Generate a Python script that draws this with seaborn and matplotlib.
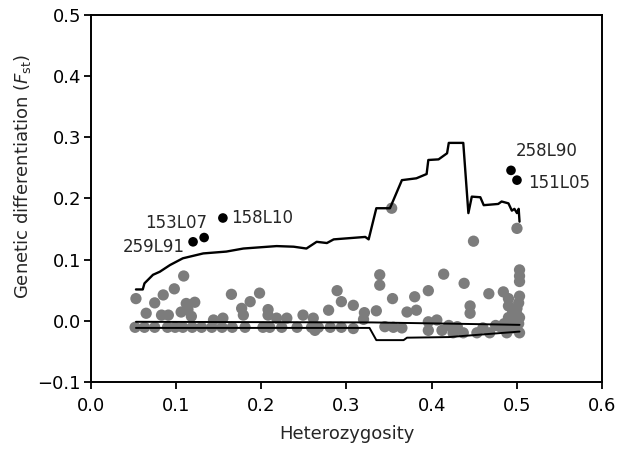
import numpy as np
import pandas as pd
import seaborn as sns
import matplotlib
matplotlib.use("Agg")
import matplotlib.pyplot as plt

# grey loci (heterozygosity, Fst)
het_grey = [0.053, 0.109, 0.098, 0.085, 0.075, 0.065, 0.083, 0.091, 0.106, 0.114, 0.112, 0.122, 0.118, 0.144, 0.155, 0.165,
            0.052, 0.063, 0.075, 0.090, 0.099, 0.108, 0.119, 0.130, 0.142, 0.154, 0.166,
            0.177, 0.179, 0.187, 0.198, 0.208, 0.208, 0.218, 0.230, 0.249, 0.261, 0.279, 0.289, 0.294, 0.308, 0.321, 0.320,
            0.181, 0.202, 0.210, 0.224, 0.242, 0.259, 0.267, 0.281, 0.294, 0.308, 0.263,
            0.339, 0.339, 0.335, 0.354, 0.371, 0.380, 0.382, 0.396, 0.414, 0.353, 0.449, 0.438, 0.500, 0.503, 0.503, 0.503,
            0.467, 0.484, 0.490, 0.490, 0.502, 0.445, 0.445, 0.396, 0.406,
            0.345, 0.355, 0.365, 0.396, 0.412, 0.425, 0.437, 0.453, 0.468, 0.488, 0.503,
            0.495, 0.500, 0.503, 0.497, 0.502, 0.490, 0.485, 0.480, 0.500, 0.503, 0.495, 0.475, 0.460, 0.430, 0.420]
fst_grey = [0.036, 0.073, 0.052, 0.042, 0.029, 0.012, 0.009, 0.009, 0.014, 0.018, 0.028, 0.030, 0.007, 0.001, 0.004, 0.043,
            -0.011, -0.011, -0.011, -0.011, -0.011, -0.011, -0.011, -0.011, -0.011, -0.011, -0.011,
            0.020, 0.009, 0.031, 0.045, 0.018, 0.009, 0.004, 0.004, 0.009, 0.004, 0.017, 0.049, 0.031, 0.025, 0.013, 0.002,
            -0.011, -0.011, -0.011, -0.011, -0.011, -0.011, -0.011, -0.011, -0.011, -0.013, -0.016,
            0.075, 0.058, 0.016, 0.036, 0.014, 0.039, 0.017, 0.049, 0.076, 0.184, 0.130, 0.061, 0.151, 0.083, 0.073, 0.064,
            0.044, 0.047, 0.036, 0.024, 0.029, 0.024, 0.012, -0.002, 0.001,
            -0.010, -0.011, -0.012, -0.016, -0.016, -0.020, -0.020, -0.020, -0.020, -0.020, -0.020,
            0.015, 0.010, 0.005, 0.000, -0.005, 0.005, -0.005, -0.010, 0.020, 0.040, -0.012, -0.008, -0.012, -0.010, -0.008]

# outlier loci
outlier_names = ["259L91", "153L07", "158L10", "258L90", "151L05"]
het_out = [0.120, 0.133, 0.155, 0.493, 0.500]
fst_out = [0.129, 0.136, 0.168, 0.246, 0.230]

# upper quantile line
upper_x = [0.053, 0.061, 0.063, 0.073, 0.081, 0.093, 0.108, 0.132, 0.159, 0.179, 0.218, 0.238, 0.253, 0.265, 0.277,
           0.285, 0.322, 0.326, 0.335, 0.351, 0.365, 0.382, 0.394, 0.396, 0.408, 0.418, 0.420, 0.437, 0.443,
           0.447, 0.457, 0.461, 0.478, 0.482, 0.490, 0.494, 0.497, 0.500, 0.502, 0.503]
upper_y = [0.051, 0.051, 0.061, 0.075, 0.080, 0.091, 0.102, 0.110, 0.113, 0.118, 0.122, 0.121, 0.118, 0.129, 0.127,
           0.133, 0.137, 0.133, 0.184, 0.184, 0.230, 0.233, 0.240, 0.263, 0.264, 0.274, 0.291, 0.291, 0.176,
           0.203, 0.202, 0.189, 0.191, 0.195, 0.192, 0.180, 0.183, 0.176, 0.183, 0.162]

# median line
mid_x = [0.053, 0.330, 0.420, 0.503]
mid_y = [-0.002, -0.003, -0.005, -0.007]

# lower quantile line
low_x = [0.053, 0.327, 0.335, 0.367, 0.371, 0.420, 0.503]
low_y = [-0.012, -0.012, -0.032, -0.032, -0.028, -0.027, -0.018]

sns.set_style("ticks")
plt.rcParams["font.family"] = ["DejaVu Sans"]
plt.rcParams["mathtext.fontset"] = "dejavusans"

fig = plt.figure(figsize=(6.26, 4.49), dpi=100)
ax = fig.add_axes([0.145, 0.150, 0.817, 0.816])

grey_df = pd.DataFrame({"het": het_grey, "fst": fst_grey})
sns.scatterplot(data=grey_df, x="het", y="fst", color="#7c7c7c", s=66, edgecolor="none", ax=ax, zorder=2)

for xs, ys, lw in [(upper_x, upper_y, 1.7), (mid_x, mid_y, 1.4), (low_x, low_y, 1.4)]:
    sns.lineplot(x=xs, y=ys, sort=False, estimator=None, color="black", linewidth=lw, ax=ax, zorder=3)

out_df = pd.DataFrame({"het": het_out, "fst": fst_out, "name": outlier_names})
sns.scatterplot(data=out_df, x="het", y="fst", color="black", s=48, edgecolor="none", ax=ax, zorder=4)

label_pos = {"259L91": (0.110, 0.121, "right"), "153L07": (0.136, 0.159, "right"),
             "158L10": (0.165, 0.168, "left"), "258L90": (0.498, 0.277, "left"),
             "151L05": (0.513, 0.226, "left")}
for name in outlier_names:
    lx, ly, ha = label_pos[name]
    ax.text(lx, ly, name, ha=ha, va="center", fontsize=12)

ax.set_xlim(0, 0.6)
ax.set_ylim(-0.1, 0.5)
ax.set_xticks(np.arange(0, 0.61, 0.1))
ax.set_yticks(np.arange(-0.1, 0.51, 0.1))
ax.set_xticklabels([f"{v:.1f}" for v in np.arange(0, 0.61, 0.1)])
ax.set_yticklabels(["\u22120.1"] + [f"{v:.1f}" for v in np.arange(0, 0.51, 0.1)])
ax.tick_params(labelsize=13, direction="out", length=5, width=1.3, colors="black")
ax.tick_params(axis="x", pad=6)
ax.tick_params(axis="y", pad=2)
for sp in ax.spines.values():
    sp.set_linewidth(1.4)
    sp.set_color("black")
ax.set_xlabel("Heterozygosity", fontsize=13, labelpad=7)
ax.set_ylabel(r"Genetic differentiation ($F_{\rm st}$)", fontsize=13)
ax.yaxis.set_label_coords(-0.112, 0.56)

fig.savefig("out.png", dpi=100)
